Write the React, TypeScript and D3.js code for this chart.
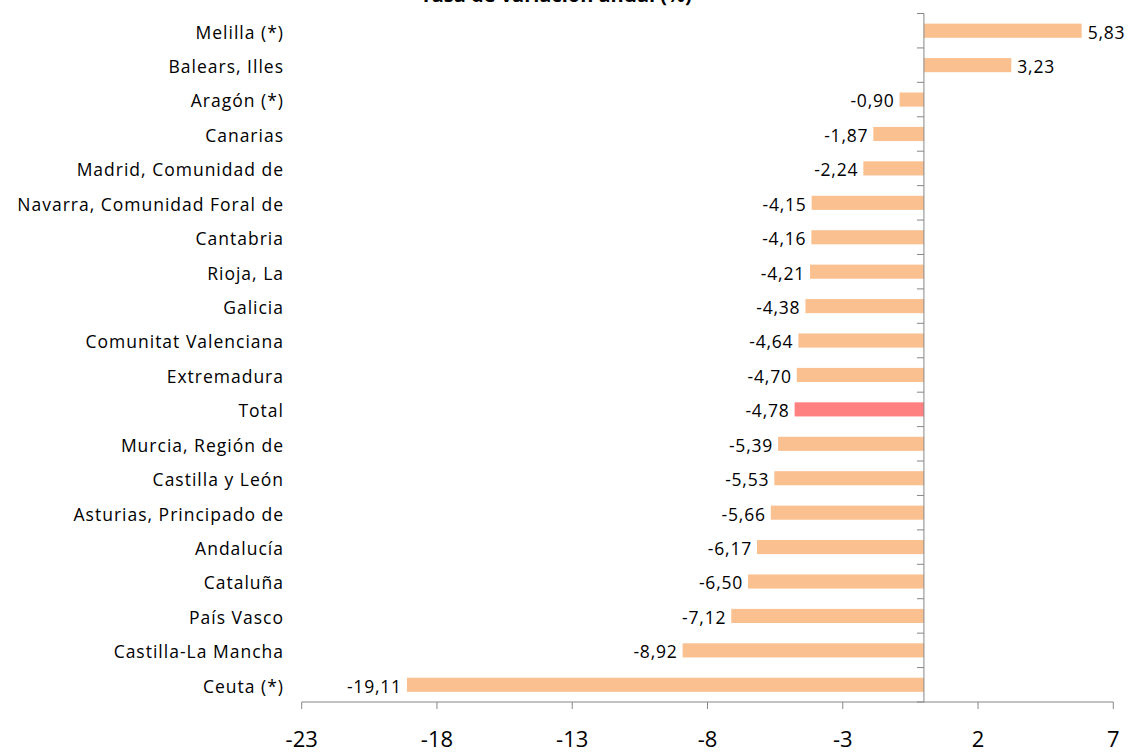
import React from "react";
import * as d3 from "d3";

const categories = [
  "Melilla (*)",
  "Balears, Illes",
  "Aragón (*)",
  "Canarias",
  "Madrid, Comunidad de",
  "Navarra, Comunidad Foral de",
  "Cantabria",
  "Rioja, La",
  "Galicia",
  "Comunitat Valenciana",
  "Extremadura",
  "Total",
  "Murcia, Región de",
  "Castilla y León",
  "Asturias, Principado de",
  "Andalucía",
  "Cataluña",
  "País Vasco",
  "Castilla-La Mancha",
  "Ceuta (*)",
];
const values = [5.83, 3.23, -0.9, -1.87, -2.24, -4.15, -4.16, -4.21, -4.38, -4.64, -4.7, -4.78, -5.39, -5.53, -5.66, -6.17, -6.5, -7.12, -8.92, -19.11];
const xTicks = [-23, -18, -13, -8, -3, 2, 7];
const title = "Tasa de variación anual (%)";

const W = 1132;
const H = 753;
const FONT = "'Open Sans', sans-serif";

export default function App() {
  const x = d3.scaleLinear().domain([-23, 7]).range([301.7, 1113.3]);
  const y = d3.scaleBand<string>().domain(categories).range([13.5, 702]).paddingInner(0.59).paddingOuter(0.295);
  const step = y.step();
  const x0 = x(0);
  const fmt = (v: number) => v.toFixed(2).replace(".", ",");
  const axisColor = "#868686";
  return (
    <svg width={W} height={H} style={{ position: "absolute", left: 0, top: 0, background: "#fff" }}>
      <text x={556} y={2} textAnchor="middle" fontFamily={FONT} fontWeight="bold" fontSize={20} fill="#000">
        {title}
      </text>
      {categories.map((c, i) => {
        const v = values[i];
        const by = y(c)!;
        const bh = y.bandwidth();
        const isTotal = c === "Total";
        return (
          <g key={c}>
            <rect
              x={Math.min(x(v), x0)}
              y={by}
              width={Math.abs(x(v) - x0)}
              height={bh}
              fill={isTotal ? "#FF8080" : "#FAC090"}
            />
            <text
              x={v < 0 ? x(v) - 5 : x(v) + 6}
              y={by + bh / 2}
              dy="0.45em"
              textAnchor={v < 0 ? "end" : "start"}
              fontFamily={FONT}
              fontSize={17.5}
              letterSpacing={0.8}
              fill="#000"
            >
              {fmt(v)}
            </text>
            <text
              x={284}
              y={by + bh / 2}
              dy="0.45em"
              textAnchor="end"
              fontFamily={FONT}
              fontSize={17.5}
              letterSpacing={1.0}
              fill="#000"
            >
              {c}
            </text>
          </g>
        );
      })}
      {d3.range(categories.length + 1).map((i) => {
        const yy = 13.5 + i * step;
        return <line key={"t" + i} x1={x0 - 7} x2={x0} y1={yy} y2={yy} stroke={axisColor} strokeWidth={1} />;
      })}
      <line x1={x0} x2={x0} y1={13.5} y2={702} stroke={axisColor} strokeWidth={1} />
      <line x1={x(-23)} x2={x(7)} y1={702} y2={702} stroke={axisColor} strokeWidth={1} />
      {xTicks.map((t) => (
        <g key={t}>
          <line x1={x(t)} x2={x(t)} y1={702} y2={709} stroke={axisColor} strokeWidth={1} />
          <text x={x(t)} y={747} textAnchor="middle" fontFamily={FONT} fontSize={22} fill="#000">
            {t}
          </text>
        </g>
      ))}
    </svg>
  );
}
